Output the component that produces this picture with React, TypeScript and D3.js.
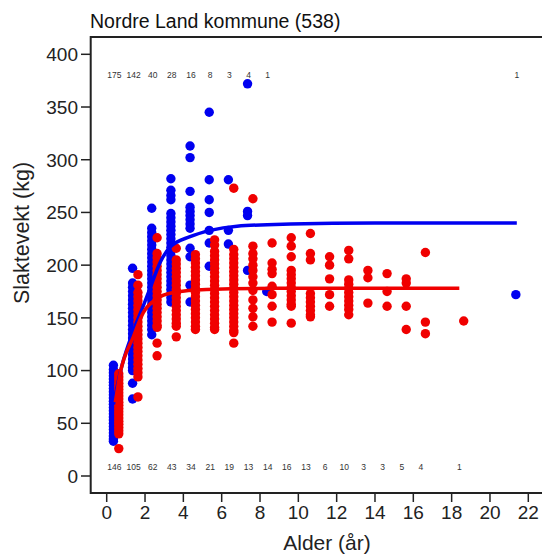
import React from "react";
import * as d3 from "d3";

// ---- Data ----
const title = "Nordre Land kommune (538)";
const xLabel = "Alder (år)";
const yLabel = "Slaktevekt (kg)";
const xTicks = [0, 2, 4, 6, 8, 10, 12, 14, 16, 18, 20, 22];
const yTicks = [0, 50, 100, 150, 200, 250, 300, 350, 400];

// counts of males (top row) and females (bottom row) per age class
const maleCountAges = [0, 1, 2, 3, 4, 5, 6, 7, 8, 21];
const maleCounts = [175, 142, 40, 28, 16, 8, 3, 4, 1, 1];
const femaleCountAges = [0, 1, 2, 3, 4, 5, 6, 7, 8, 9, 10, 11, 12, 13, 14, 15, 16, 18];
const femaleCounts = [146, 105, 62, 43, 34, 21, 19, 13, 14, 16, 13, 6, 10, 3, 3, 5, 4, 1];

// male carcass weights by age class (kg)
const maleAges = [0, 1, 2, 3, 4, 5, 6, 7, 8, 21];
const maleWeights: number[][] = [
  [105, 101, 98, 95, 92, 89, 86, 83, 80, 77, 74, 71, 68, 65, 62, 59, 56, 53, 50, 47, 44, 41, 38, 35, 33],
  [197, 183, 179, 175, 171, 167, 163, 159, 155, 151, 147, 143, 139, 135, 131, 127, 123, 119, 115, 111, 107, 103, 100, 88, 73],
  [254, 235, 231, 227, 223, 219, 215, 211, 207, 203, 199, 195, 191, 187, 183, 179, 175, 171, 167, 163, 159, 155, 151, 147, 143, 139, 134],
  [282, 271, 266, 262, 249, 245, 241, 237, 233, 229, 225, 221, 217, 213, 209, 205, 201, 197, 193, 189, 185, 181, 177, 173, 169, 165],
  [313, 302, 270, 255, 251, 247, 243, 239, 235, 216, 208, 181, 165],
  [345, 281, 262, 250, 233, 221, 199],
  [281, 220, 233],
  [372, 251, 247, 195],
  [175],
  [172],
];

// female carcass weights by age class (kg)
const femaleAges = [0, 1, 2, 3, 4, 5, 6, 7, 8, 9, 10, 11, 12, 13, 14, 15, 16, 18];
const femaleWeights: number[][] = [
  [97, 94, 91, 88, 85, 82, 79, 76, 73, 70, 67, 64, 61, 58, 55, 52, 49, 46, 43, 40, 26],
  [191, 181, 174, 170, 166, 162, 158, 154, 150, 146, 142, 138, 134, 130, 126, 122, 118, 114, 110, 106, 102, 98, 94, 75],
  [226, 211, 207, 203, 199, 195, 191, 187, 183, 179, 175, 171, 167, 163, 159, 155, 151, 147, 143, 141, 126, 114],
  [216, 205, 201, 197, 193, 189, 185, 181, 177, 173, 169, 165, 161, 157, 153, 149, 145, 142, 132],
  [210, 206, 202, 198, 194, 190, 186, 182, 178, 174, 170, 166, 162, 158, 154, 150, 146, 142, 139],
  [224, 219, 213, 209, 205, 201, 197, 193, 189, 185, 181, 177, 173, 169, 165, 161, 157, 153, 149, 145, 141, 139],
  [273, 215, 210, 206, 202, 198, 194, 190, 186, 182, 178, 174, 170, 166, 162, 158, 154, 150, 146, 142, 138, 136, 126],
  [263, 218, 211, 206, 200, 195, 189, 183, 176, 167, 159, 151, 142],
  [221, 202, 196, 192, 180, 172, 161, 146],
  [226, 218, 208, 195, 191, 187, 183, 179, 175, 171, 167, 163, 161, 145],
  [230, 211, 205, 173, 169, 165, 161, 157, 153, 151],
  [208, 200, 187, 172, 161],
  [214, 206, 186, 182, 178, 174, 170, 166, 162, 158, 153],
  [195, 188, 164],
  [192, 175, 161],
  [187, 183, 161, 139],
  [212, 146, 135],
  [147],
];

// fitted growth curves: [age, kg]
const maleCurve: [number, number][] = [
  [0.35, 68], [0.8, 105], [1.4, 138], [1.9, 161], [2.2, 175], [2.8, 203], [3.3, 217],
  [4.35, 227], [5.4, 233], [6.8, 237], [9.6, 239], [14, 240], [21.4, 240],
];
const femaleCurve: [number, number][] = [
  [0.45, 70], [0.7, 97], [1.39, 132], [1.91, 155], [2.6, 168], [3.48, 174],
  [5.2, 177], [9, 178], [18.4, 178],
];

const W = 542;
const H = 556;
const maleOffset = 0.35;
const femaleOffset = 0.63;
const countOffset = 0.4;

export default function App() {
  const x = d3.scaleLinear().domain([0, 22]).range([106.7, 528.3]);
  const y = d3.scaleLinear().domain([0, 400]).range([476, 54.3]);
  const frame = { left: 90.7, top: 37, bottom: 493, right: 560 };

  const line = d3
    .line<[number, number]>()
    .x((d) => x(d[0]))
    .y((d) => y(d[1]))
    .curve(d3.curveMonotoneX);

  const font = "'Liberation Sans', Arial, sans-serif";
  const blue = "#0000f0";
  const red = "#f00000";
  const r = 4.7;

  return (
    <div style={{ position: "absolute", left: 0, top: 0 }}>
      <svg width={W} height={H} style={{ display: "block", background: "#fff" }}>
        <rect x={0} y={0} width={W} height={H} fill="#fff" />
        {/* title */}
        <text x={90} y={28} fontFamily={font} fontSize={19.5} fill="#111">
          {title}
        </text>

        {/* frame */}
        <path
          d={`M${frame.right},${frame.top}H${frame.left}V${frame.bottom}H${frame.right}`}
          fill="none"
          stroke="#222"
          strokeWidth={2}
        />

        {/* y axis */}
        {yTicks.map((t) => (
          <g key={"y" + t}>
            <line x1={81} x2={frame.left} y1={y(t)} y2={y(t)} stroke="#222" strokeWidth={1.5} />
            <text x={78} y={y(t)} dy="0.36em" textAnchor="end" fontFamily={font} fontSize={19} fill="#222">
              {t}
            </text>
          </g>
        ))}
        {/* x axis */}
        {xTicks.map((t) => (
          <g key={"x" + t}>
            <line x1={x(t)} x2={x(t)} y1={frame.bottom} y2={502} stroke="#222" strokeWidth={1.5} />
            <text x={x(t)} y={519} textAnchor="middle" fontFamily={font} fontSize={19} fill="#222">
              {t}
            </text>
          </g>
        ))}

        <text x={327} y={550} textAnchor="middle" fontFamily={font} fontSize={21} fill="#222">
          {xLabel}
        </text>
        <text
          transform={`translate(29,233) rotate(-90)`}
          textAnchor="middle"
          fontFamily={font}
          fontSize={21.5}
          fill="#222"
        >
          {yLabel}
        </text>

        {/* counts */}
        {maleCountAges.map((a, i) => (
          <text key={"mc" + i} x={x(a + countOffset)} y={78} textAnchor="middle" fontFamily={font} fontSize={8.5} fill="#333">
            {maleCounts[i]}
          </text>
        ))}
        {femaleCountAges.map((a, i) => (
          <text key={"fc" + i} x={x(a + countOffset)} y={470} textAnchor="middle" fontFamily={font} fontSize={8.5} fill="#333">
            {femaleCounts[i]}
          </text>
        ))}

        {/* points */}
        {maleAges.map((a, i) =>
          maleWeights[i].map((w, j) => (
            <circle key={`m${i}-${j}`} cx={x(a + maleOffset)} cy={y(w)} r={r} fill={blue} />
          ))
        )}
        {femaleAges.map((a, i) =>
          femaleWeights[i].map((w, j) => (
            <circle key={`f${i}-${j}`} cx={x(a + femaleOffset)} cy={y(w)} r={r} fill={red} />
          ))
        )}

        {/* curves */}
        <path d={line(maleCurve) || ""} fill="none" stroke={blue} strokeWidth={3.5} />
        <path d={line(femaleCurve) || ""} fill="none" stroke={red} strokeWidth={3.5} />
      </svg>
    </div>
  );
}
